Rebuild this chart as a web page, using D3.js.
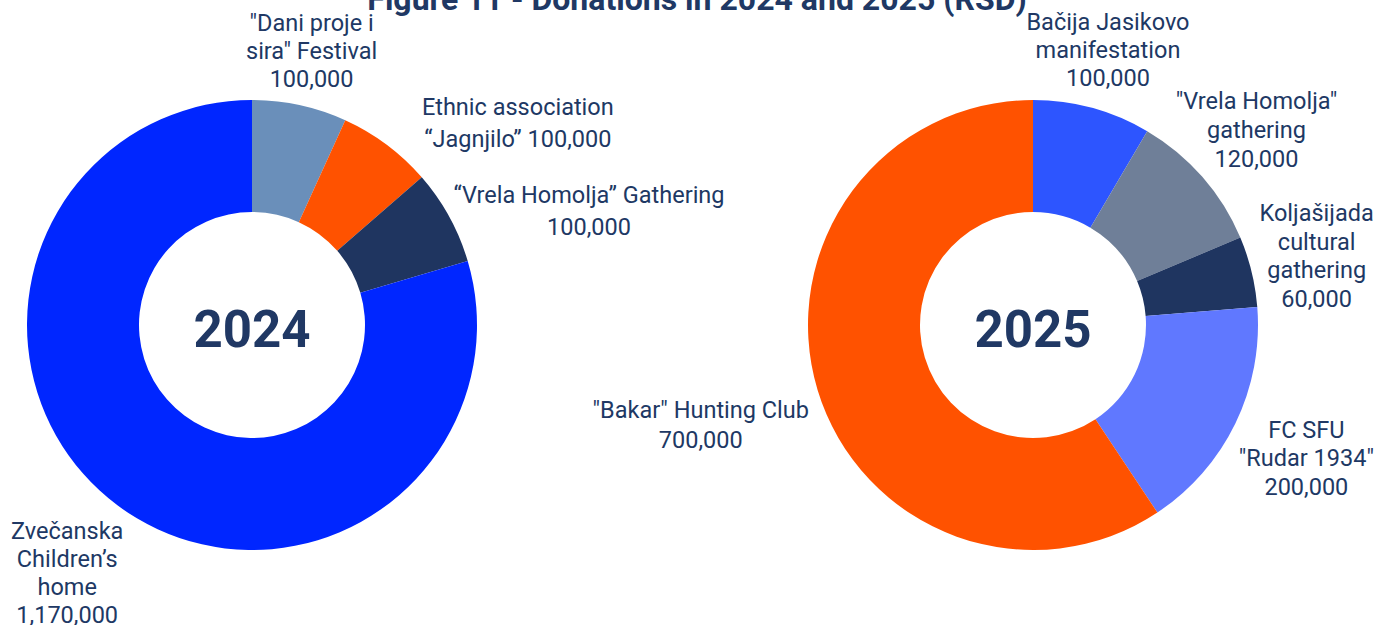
<!DOCTYPE html>
<html>
<head>
<meta charset="utf-8">
<script src="https://cdn.jsdelivr.net/npm/d3@7.9.0/dist/d3.min.js"></script>
<style>
  body { margin: 0; background: #fff; }
  svg { font-family: Roboto, "Open Sans", sans-serif; }
</style>
</head>
<body>
<svg id="chart" width="1391" height="625"></svg>
<script>
// Donations per recipient, clockwise from 12 o'clock
const labels2024 = [
  ['"Dani proje i', 'sira" Festival'],
  ['Ethnic association', '\u201CJagnjilo\u201D'],
  ['\u201CVrela Homolja\u201D Gathering'],
  ['Zve\u010Danska', 'Children\u2019s', 'home']
];
const values2024 = [100000, 100000, 100000, 1170000];
const colors2024 = ['#6a8fba', '#ff5200', '#1f3560', '#0026ff'];

const labels2025 = [
  ['Ba\u010Dija Jasikovo', 'manifestation'],
  ['"Vrela Homolja"', 'gathering'],
  ['Kolja\u0161ijada', 'cultural', 'gathering'],
  ['FC SFU', '"Rudar 1934"'],
  ['"Bakar" Hunting Club']
];
const values2025 = [100000, 120000, 60000, 200000, 700000];
const colors2025 = ['#2d55ff', '#6f7f98', '#1f3560', '#6078ff', '#ff5200'];

const textColor = '#203864';
const fmt = d3.format(',');

const svg = d3.select('#chart');

// Title (partly clipped at the top in the original)
svg.append('text')
  .attr('x', 697).attr('y', 10)
  .attr('text-anchor', 'middle')
  .attr('font-size', 32).attr('font-weight', 700)
  .attr('fill', textColor)
  .text('Figure 11 - Donations in 2024 and 2025 (RSD)');

// label layout: [radius, angle shift (deg), line height, value on same line]
const layout2024 = [[281, 0, 28, false], [334, 16, 32, true], [356, 10, 32, false], [309, 0, 28, false]];
const layout2025 = [[285, 0, 28, false], [297, 0, 29, false], [292, 0, 28.5, false], [304, 0, 28.5, false], [347, 0, 30, false]];

function drawDonut(cx, cy, year, names, values, colors, layout) {
  const outerR = 225, innerR = 113;
  const g = svg.append('g').attr('transform', `translate(${cx},${cy})`);

  const pie = d3.pie().sort(null).value(d => d);
  const arcs = pie(values);
  const arc = d3.arc().innerRadius(innerR).outerRadius(outerR);

  g.selectAll('path')
    .data(arcs)
    .join('path')
    .attr('d', arc)
    .attr('fill', (d, i) => colors[i]);

  // year in the hole
  g.append('text')
    .attr('text-anchor', 'middle')
    .attr('y', 4)
    .attr('dy', '0.36em')
    .attr('font-size', 51).attr('font-weight', 700)
    .attr('fill', textColor)
    .text(year);

  arcs.forEach((d, i) => {
    const [r, shift, lh, inline] = layout[i];
    const a = (d.startAngle + d.endAngle) / 2 + shift * Math.PI / 180;
    const x = r * Math.sin(a), y = -r * Math.cos(a);
    let lines = names[i].slice();
    if (inline) lines[lines.length - 1] += ' ' + fmt(values[i]);
    else lines.push(fmt(values[i]));
    const t = g.append('text')
      .attr('text-anchor', 'middle')
      .attr('font-size', 23.5)
      .attr('fill', textColor);
    const top = y - (lines.length - 1) * lh / 2;
    lines.forEach((ln, j) => {
      t.append('tspan')
        .attr('x', x)
        .attr('y', top + j * lh)
        .attr('dy', '0.35em')
        .text(ln);
    });
  });
}

drawDonut(252, 325, '2024', labels2024, values2024, colors2024, layout2024);
drawDonut(1033, 325, '2025', labels2025, values2025, colors2025, layout2025);
</script>
</body>
</html>
